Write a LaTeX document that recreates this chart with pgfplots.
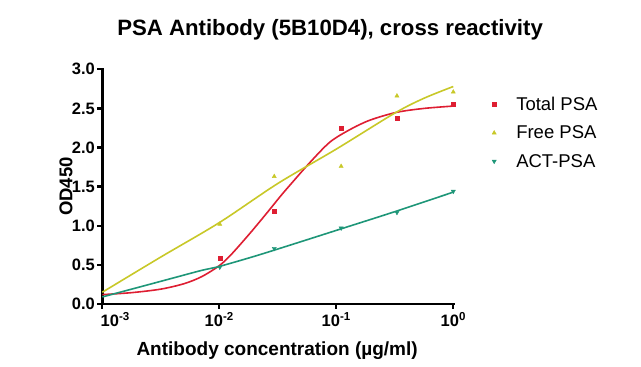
\documentclass[border=0pt]{standalone}
\usepackage{pgfplots}
\pgfplotsset{compat=1.18}
\usepackage{fontspec}
\setmainfont{Liberation Sans}
\definecolor{cRed}{RGB}{222,30,50}
\definecolor{cYel}{RGB}{200,200,40}
\definecolor{cTeal}{RGB}{30,150,120}
\begin{document}
\begin{tikzpicture}
\useasboundingbox (0,0) rectangle (641pt,367pt);
\begin{semilogxaxis}[
  at={(102.3pt,63pt)}, anchor=south west,
  scale only axis, width=351pt, height=234.7pt,
  xmin=1e-3, xmax=1, ymin=0, ymax=3,
  clip=false,
  axis lines*=left,
  axis line style={line width=2.8pt, line cap=rect},
  tick align=outside,
  major tick length=5pt,
  every tick/.style={black, line width=2.4pt},
  xminorticks=false, yminorticks=false,
  xtick={1e-3,1e-2,1e-1,1},
  xticklabels={{\hspace*{26pt}10\textsuperscript{-3}},{10\textsuperscript{-2}},{10\textsuperscript{-1}},{10\textsuperscript{0}}},
  ytick={0,0.5,1,1.5,2,2.5,3},
  yticklabels={0.0,0.5,1.0,1.5,2.0,2.5,3.0},
  ticklabel style={font=\fontsize{16.5}{18}\selectfont\bfseries},
  xticklabel style={yshift=0pt},
  yticklabel style={xshift=1pt},
  title={PSA Antibody (5B10D4), cross reactivity},
  title style={at={(axis description cs:0.649,1.142)}, anchor=center, font=\fontsize{22.2}{24}\selectfont\bfseries},
  xlabel={Antibody concentration (µg/ml)},
  xlabel style={at={(axis description cs:0.498,-0.198)}, anchor=center, font=\fontsize{19}{21}\selectfont\bfseries},
  ylabel={OD450},
  ylabel style={at={(axis description cs:-0.075,0.5)}, anchor=south, font=\fontsize{18.5}{21}\selectfont\bfseries},
  legend style={at={(axis description cs:1.11,0.888)}, anchor=north west, draw=none, fill=none,
    font=\fontsize{18.5}{20}\selectfont, row sep=12pt, column sep=19pt, inner sep=0pt,
    nodes={inner sep=1pt}},
  legend cell align=left,
]
% fitted curves
\addplot[cRed, line width=1.6pt, smooth, forget plot] coordinates {
 (0.001,0.12) (0.00178,0.145) (0.00316,0.19) (0.00501,0.26) (0.00708,0.35)
 (0.01,0.49) (0.0126,0.63) (0.0182,0.90) (0.0254,1.16) (0.0330,1.37)
 (0.0402,1.52) (0.0596,1.81) (0.0883,2.07) (0.131,2.23) (0.194,2.35)
 (0.328,2.45) (0.562,2.50) (1,2.53)};
\addplot[cYel, line width=1.6pt, smooth, forget plot] coordinates {
 (0.001,0.15) (0.00316,0.60) (0.01,1.04) (0.0316,1.54) (0.1,1.98)
 (0.316,2.44) (0.562,2.63) (1,2.78)};
\addplot[cTeal, line width=1.6pt, smooth, forget plot] coordinates {
 (0.001,0.09) (0.002,0.21) (0.00398,0.33) (0.00708,0.43) (0.01,0.48)
 (0.02,0.61) (0.0398,0.75) (0.1096,0.96) (0.316,1.18) (1,1.43)};
% data points
\addplot[only marks, mark=square*, mark size=2pt, color=cRed] coordinates {
 (0.0101,0.58) (0.0295,1.19) (0.11,2.25) (0.33,2.37) (1,2.55)};
\addlegendentry{Total PSA}
\addplot[only marks, mark=triangle*, mark size=2.4pt, color=cYel] coordinates {
 (0.0101,1.02) (0.0295,1.63) (0.11,1.76) (0.33,2.66) (1,2.71)};
\addlegendentry{Free PSA}
\addplot[only marks, mark=triangle*, mark size=2.4pt, mark options={rotate=180}, color=cTeal] coordinates {
 (0.0101,0.47) (0.0295,0.71) (0.11,0.97) (0.33,1.17) (1,1.44)};
\addlegendentry{ACT-PSA}
\end{semilogxaxis}
\end{tikzpicture}
\end{document}
